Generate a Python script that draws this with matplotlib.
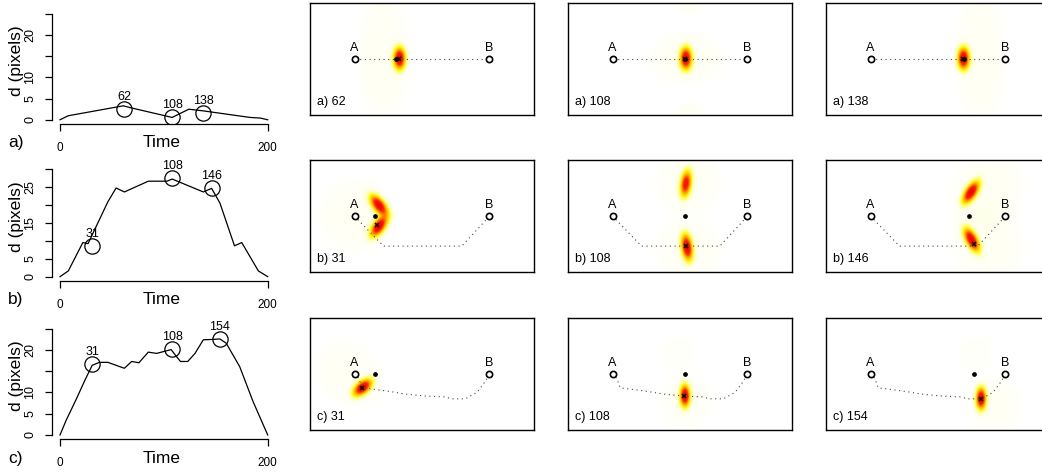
import numpy as np
import matplotlib
matplotlib.use("Agg")
import matplotlib.pyplot as plt
from matplotlib.colors import LinearSegmentedColormap

plt.rcParams['font.family'] = ['Liberation Sans', 'DejaVu Sans']

# ---- distance-over-time curves (left column) ----
time_a = [0, 8, 61, 67, 108, 124, 138, 167, 183, 193, 200]
dist_a = [0, 0.95, 3.3, 2.9, 0.55, 2.5, 2.1, 1.1, 0.55, 0.4, 0]
time_b = [0, 8, 22, 27, 46, 54, 62, 85, 103, 108, 138, 146, 154, 168, 175, 191, 200]
dist_b = [0, 1.6, 9.5, 9.2, 20.8, 24.7, 23.6, 26.6, 26.6, 27.2, 23.6, 24.6, 20.5, 8.6, 9.5, 1.6, 0]
time_c = [0, 6, 16, 24, 31, 38, 46, 62, 69, 76, 85, 93, 107, 112, 116, 123, 130, 138,
          148, 154, 160, 173, 186, 200]
dist_c = [0, 3.5, 8.6, 12.9, 16.4, 17.1, 17.1, 15.7, 17.3, 17.0, 19.5, 19.2, 20.1, 18.5,
          17.3, 17.3, 19.2, 22.4, 22.5, 22.6, 21.6, 16.1, 7.8, 0]

# highlighted instants and their distances
marks_a = [62, 108, 138]
mark_d_a = [2.5, 0.55, 1.7]
marks_b = [31, 108, 146]
mark_d_b = [8.6, 27.5, 24.8]
marks_c = [31, 108, 154]
mark_d_c = [16.6, 20.2, 22.7]

ytop = [25, 30, 25]
ylabels = [['0', '5', '10', '', '20', ''],
           ['0', '5', '', '15', '', '25', ''],
           ['0', '5', '10', '', '20', '']]

# ---- trajectories from A (0,0) to B (1,0) ----
path_a_x = [0, 1]
path_a_y = [0, 0]
path_b_x = [0, 0.215, 0.795, 1]
path_b_y = [0, -0.222, -0.222, 0]
path_c_x = [0, 0.032, 0.057, 0.156, 0.277, 0.378, 0.533, 0.66, 0.721, 0.822, 0.909, 0.97, 1]
path_c_y = [0, -0.035, -0.104, -0.116, -0.133, -0.15, -0.165, -0.17, -0.185, -0.185,
            -0.136, -0.054, 0]

# observed positions at the marked instants
obs_a = [(0.33, 0.0), (0.54, 0.0), (0.685, 0.0)]
obs_b = [(0.165, -0.069), (0.548, -0.222), (0.763, -0.205)]
obs_c = [(0.057, -0.104), (0.533, -0.165), (0.815, -0.185)]

# density components: (cx, cy, sx, sy, angle, weight, shape)
dens_a = [
    [(0.33, 0.0, 0.027, 0.05, 0, 1.0, 1), (0.21, 0.0, 0.15, 0.42, 0, 0.035, 2)],
    [(0.54, 0.0, 0.027, 0.05, 0, 1.0, 1), (0.54, 0.0, 0.22, 0.16, 0, 0.035, 2),
     (0.56, 0.42, 0.1, 0.08, 0, 0.03, 2), (0.56, -0.42, 0.1, 0.08, 0, 0.03, 2)],
    [(0.685, 0.0, 0.027, 0.05, 0, 1.0, 1), (0.81, 0.0, 0.15, 0.42, 0, 0.035, 2)],
]
dens_b = [
    [(0.178, 0.075, 0.055, 0.027, -52, 1.0, 1), (0.178, -0.08, 0.055, 0.027, 55, 1.0, 1),
     (0.01, 0.0, 0.22, 0.22, 0, 0.035, 2)],
    [(0.54, 0.235, 0.025, 0.06, -8, 0.85, 1), (0.548, -0.235, 0.025, 0.06, 8, 1.0, 1),
     (0.56, 0.25, 0.2, 0.2, 0, 0.03, 2), (0.56, -0.25, 0.2, 0.2, 0, 0.03, 2)],
    [(0.74, 0.172, 0.058, 0.026, 57, 1.0, 1), (0.745, -0.18, 0.058, 0.026, -62, 1.0, 1),
     (0.86, 0.2, 0.22, 0.25, 0, 0.03, 2), (0.86, -0.2, 0.22, 0.25, 0, 0.03, 2)],
]
dens_c = [
    [(0.057, -0.104, 0.05, 0.028, 40, 1.0, 1), (-0.04, 0.0, 0.18, 0.22, 40, 0.03, 2)],
    [(0.533, -0.165, 0.023, 0.05, 0, 1.0, 1), (0.49, 0.155, 0.11, 0.11, 0, 0.02, 2),
     (0.54, -0.2, 0.16, 0.17, 0, 0.03, 2)],
    [(0.815, -0.185, 0.023, 0.05, 0, 1.0, 1), (0.77, 0.155, 0.11, 0.11, 0, 0.02, 2),
     (0.92, -0.23, 0.16, 0.17, 0, 0.03, 2)],
]

row_tags = ['a)', 'b)', 'c)']

heat_cmap = LinearSegmentedColormap.from_list(
    'heat', [(0.0, '#ffffff'), (0.04, '#fffff0'), (0.1, '#ffffc0'), (0.22, '#ffff00'),
             (0.45, '#ffa000'), (0.7, '#ff2000'), (1.0, '#f50000')])

XLIM = (-0.33, 1.33)
YLIM = (-0.416, 0.416)


def density(components):
    xs = np.linspace(XLIM[0], XLIM[1], 400)
    ys = np.linspace(YLIM[0], YLIM[1], 200)
    X, Y = np.meshgrid(xs, ys)
    Z = np.zeros_like(X)
    for cx, cy, sx, sy, ang, w, p in components:
        t = np.radians(ang)
        dx = X - cx
        dy = Y - cy
        u = dx * np.cos(t) + dy * np.sin(t)
        v = -dx * np.sin(t) + dy * np.cos(t)
        r2 = (u / sx) ** 2 + (v / sy) ** 2
        Z += w * np.exp(-0.5 * r2 ** p)
    return Z / Z.max()


def distance_panel(fig, rect, t, d, marks, mark_d, top, labels, tag):
    ax = fig.add_axes(rect)
    ax.plot(t, d, color='black', lw=0.9)
    ax.plot(marks, mark_d, 'o', ms=11, mfc='none', mec='black', mew=0.9)
    for m, md in zip(marks, mark_d):
        ax.annotate(str(m), (m, md), xytext=(0, 12), textcoords='offset pixels',
                    ha='center', va='center', fontsize=9)
    ax.set_xlim(-8, 208)
    ax.set_ylim(-top * 0.04, top * 1.04)
    for s in ['top', 'right']:
        ax.spines[s].set_visible(False)
    ax.spines['left'].set_bounds(0, top)
    ax.spines['bottom'].set_bounds(0, 200)
    ax.spines['left'].set_linewidth(0.9)
    ax.spines['bottom'].set_linewidth(0.9)
    ax.set_xticks([0, 200])
    ax.set_xticklabels(['0', '200'], fontsize=8.5)
    ax.set_yticks(np.arange(0, top + 1, 5))
    ax.set_yticklabels(labels, rotation=90, va='center', fontsize=9)
    ax.tick_params(axis='x', length=5, width=0.9, pad=8)
    ax.tick_params(axis='y', length=5, width=0.9, pad=6)
    ax.annotate('Time', (0.49, 0), xycoords='axes fraction', xytext=(0, -19),
                textcoords='offset pixels', ha='center', va='center', fontsize=12.5)
    ax.annotate(tag, (0, 0), xycoords='axes fraction', xytext=(-36, -19),
                textcoords='offset pixels', ha='center', va='center', fontsize=12.5)
    ax.text(-0.155, 0.55, 'd (pixels)', transform=ax.transAxes, rotation=90,
            ha='center', va='center', fontsize=12.5)
    return ax


def heat_panel(fig, rect, comps, px, py, tm, obs, label):
    ax = fig.add_axes(rect)
    ax.imshow(density(comps), cmap=heat_cmap, vmin=0, vmax=1, origin='lower',
              extent=(XLIM[0], XLIM[1], YLIM[0], YLIM[1]), aspect='auto',
              interpolation='bilinear')
    ax.plot(px, py, color='#444444', lw=0.8, linestyle=(0, (1, 3.2)))
    ax.plot([0, 1], [0, 0], 'o', ms=4.5, mfc='white', mec='black', mew=1.2)
    ax.text(0, 0.08, 'A', ha='center', va='center', fontsize=9)
    ax.text(1, 0.08, 'B', ha='center', va='center', fontsize=9)
    ax.plot([tm / 200], [0], 'o', ms=2.4, color='black')
    ax.plot([obs[0]], [obs[1]], 'x', ms=3.5, mew=1.1, color='black')
    ax.text(XLIM[0] + 0.055, YLIM[0] + 0.095, label, ha='left', va='center', fontsize=9)
    ax.set_xlim(XLIM)
    ax.set_ylim(YLIM)
    ax.set_xticks([])
    ax.set_yticks([])
    for s in ax.spines.values():
        s.set_linewidth(1.0)
    return ax


fig = plt.figure(figsize=(10.42, 4.72), dpi=100)

left_rects = [(0.0496, 0.7373, 0.2153, 0.242),
              (0.0496, 0.4047, 0.2153, 0.2464),
              (0.0496, 0.0694, 0.2153, 0.2431)]
heat_left = [0.2975, 0.5451, 0.7927]
heat_bottom = [0.7564, 0.4231, 0.0890]

times = [time_a, time_b, time_c]
dists = [dist_a, dist_b, dist_c]
marks = [marks_a, marks_b, marks_c]
mark_ds = [mark_d_a, mark_d_b, mark_d_c]
paths = [(path_a_x, path_a_y), (path_b_x, path_b_y), (path_c_x, path_c_y)]
obs = [obs_a, obs_b, obs_c]
dens = [dens_a, dens_b, dens_c]

for r in range(3):
    distance_panel(fig, left_rects[r], times[r], dists[r], marks[r], mark_ds[r],
                   ytop[r], ylabels[r], row_tags[r])
    for k in range(3):
        heat_panel(fig, (heat_left[k], heat_bottom[r], 0.2150, 0.2379), dens[r][k],
                   paths[r][0], paths[r][1], marks[r][k], obs[r][k],
                   f"{row_tags[r]} {marks[r][k]}")

fig.savefig('out.png', dpi=100)
